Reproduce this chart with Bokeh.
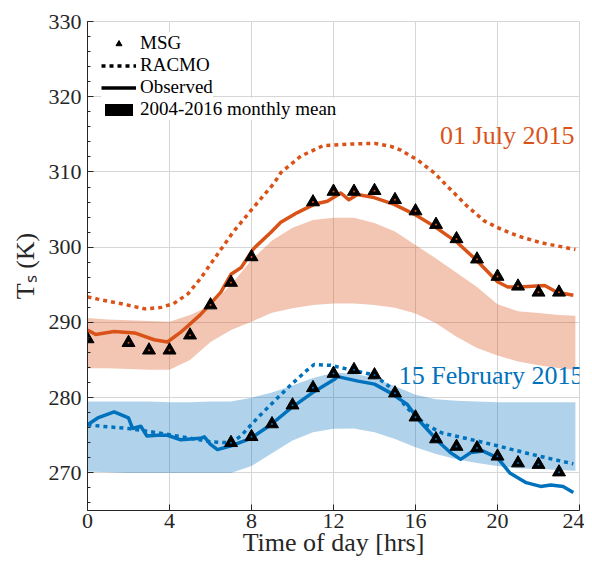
from bokeh.plotting import figure
from bokeh.models import Range1d, FixedTicker, Legend, LegendItem, Label
from bokeh.embed import file_html
from bokeh.resources import INLINE

# ---------------- data ----------------
band_hr = [0, 1, 2, 3, 4, 5, 6, 7, 8, 9, 10, 11, 12, 13, 14, 15, 16, 17, 18, 19, 20, 21, 22, 23, 23.8]
july_band_hi = [290.6, 290.4, 290.3, 290.2, 290.1, 291.0, 292.2, 295.0, 298.3, 300.9, 302.6, 303.6, 303.9,
                303.9, 303.2, 302.1, 300.3, 298.5, 296.6, 294.7, 292.4, 291.5, 291.25, 291.0, 290.9]
july_band_lo = [283.9, 283.9, 283.8, 283.7, 283.7, 285.0, 287.4, 289.0, 290.1, 291.3, 291.9, 292.3, 292.5,
                292.5, 292.3, 291.95, 291.2, 289.9, 288.1, 286.6, 285.6, 284.8, 284.3, 283.9, 283.7]
feb_band_hi = [279.5, 279.5, 279.5, 279.5, 279.4, 279.4, 279.5, 279.5, 280.0, 280.7, 281.6, 282.6, 283.3,
               283.2, 282.6, 281.5, 280.4, 279.8, 279.6, 279.5, 279.4, 279.4, 279.4, 279.4, 279.4]
feb_band_lo = [270.2, 270.1, 270.0, 270.0, 270.0, 270.0, 270.0, 270.0, 270.9, 272.6, 274.3, 275.4, 275.85,
               275.9, 275.4, 274.5, 273.4, 272.5, 271.8, 271.3, 270.9, 270.6, 270.5, 270.4, 270.3]

july_obs_hr = [0, 0.4, 1.3, 2.3, 3.25, 3.9, 4.55, 5.5, 6.5, 7.0, 7.5, 8.1, 8.95, 9.43, 10.24, 11.05, 11.7,
               12.36, 12.75, 13.17, 13.98, 14.96, 15.93, 16.9, 18.05, 19.0, 20.0, 20.5, 21.1, 22.3, 22.9, 23.7]
july_obs = [289.0, 288.4, 288.8, 288.6, 287.7, 287.4, 288.7, 291.0, 294.0, 296.4, 297.3, 299.8, 302.0, 303.3,
            304.6, 305.7, 306.1, 307.2, 306.3, 307.0, 306.6, 305.7, 304.4, 302.8, 300.6, 298.2, 295.4, 294.7,
            294.7, 294.9, 294.0, 293.6]

july_racmo_hr = [0, 0.5, 1.8, 2.8, 3.6, 4.2, 4.9, 5.5, 6.3, 7.1, 8.1, 9.1, 9.43, 10.4, 11.5, 12.7, 14.0, 14.8,
                 15.28, 16.1, 16.9, 17.7, 18.5, 19.35, 20.16, 20.98, 22.1, 23.8]
july_racmo = [293.4, 293.1, 292.4, 291.8, 292.0, 292.5, 293.8, 295.8, 298.9, 302.0, 305.3, 308.5, 309.9,
              312.1, 313.5, 313.7, 313.8, 313.4, 312.9, 311.6, 309.9, 307.7, 305.5, 303.5, 302.4, 301.5,
              300.6, 299.7]

july_msg_hr = [0, 2, 3, 4, 5, 6, 7, 8, 11, 12, 13, 14, 15, 16, 17, 18, 19, 20, 21, 22, 23]
july_msg = [287.8, 287.3, 286.3, 286.3, 288.3, 292.3, 295.3, 298.7, 306.0, 307.4, 307.4, 307.5, 306.3,
            304.8, 303.0, 301.1, 298.4, 296.1, 294.8, 294.0, 294.0]

feb_obs_hr = [0, 0.5, 1.3, 2.0, 2.2, 2.6, 2.9, 3.4, 3.9, 4.55, 5.5, 5.7, 6.0, 6.34, 7.0, 7.97, 8.94, 9.92,
              11.05, 12.03, 12.2, 13.2, 14.0, 14.8, 15.6, 16.2, 17.1, 17.7, 18.2, 18.7, 19.3, 20.0, 20.6,
              21.4, 22.1, 22.6, 23.2, 23.7]
feb_obs = [276.4, 277.3, 278.1, 277.3, 275.9, 276.2, 274.9, 275.0, 275.0, 274.4, 274.6, 274.8, 273.8, 273.1,
           273.6, 274.6, 276.4, 278.6, 280.8, 282.4, 282.8, 282.2, 281.8, 280.6, 279.1, 276.9, 274.2, 272.7,
           271.8, 272.7, 272.9, 272.0, 270.0, 268.7, 268.2, 268.4, 268.2, 267.4]

feb_racmo_hr = [0, 0.65, 2.0, 3.5, 4.8, 6.1, 7.0, 7.48, 8.29, 9.1, 9.92, 10.73, 11.05, 11.87, 13.0, 14.0,
                14.8, 15.6, 16.5, 17.3, 18.6, 20.0, 21.6, 23.7]
feb_racmo = [276.4, 276.2, 275.9, 275.3, 274.7, 274.1, 274.0, 274.9, 277.3, 279.5, 281.7, 283.7, 284.4,
             284.3, 283.6, 283.0, 281.3, 278.6, 276.4, 275.3, 274.5, 273.6, 272.5, 271.2]

feb_msg_hr = [7, 8, 9, 10, 11, 12, 13, 14, 15, 16, 17, 18, 19, 20, 21, 22, 23]
feb_msg = [274.0, 274.8, 276.5, 279.0, 281.3, 283.2, 283.7, 283.0, 280.6, 277.4, 274.5, 273.5, 273.3,
           272.2, 271.3, 271.1, 270.1]

legend_labels = ["MSG", "RACMO", "Observed", "2004-2016 monthly mean"]

x_ticks = [0, 4, 8, 12, 16, 20, 24]
y_ticks = [270, 280, 290, 300, 310, 320, 330]
y_minor = list(range(266, 331, 2))

# ---------------- style ----------------
ORANGE = "#D95319"
BLUE = "#0072BD"
FONT = "Liberation Serif"
DARK = "#262626"
NAN = float("nan")
FRAME_H = 489

p = figure(frame_width=492, frame_height=FRAME_H, x_range=Range1d(0, 24), y_range=Range1d(265, 330),
           output_backend="svg", toolbar_location=None,
           min_border_left=87, min_border_top=21, min_border_right=5, min_border_bottom=10)
p.background_fill_color = "white"
p.border_fill_color = "white"
p.outline_line_color = "#d6d6d6"
p.outline_line_width = 1

p.xaxis.ticker = FixedTicker(ticks=x_ticks)
p.yaxis.ticker = FixedTicker(ticks=y_ticks, minor_ticks=y_minor)
p.xgrid.ticker = FixedTicker(ticks=x_ticks)
p.ygrid.ticker = FixedTicker(ticks=y_ticks)
for g in (p.xgrid, p.ygrid):
    g.grid_line_color = "#d6d6d6"
    g.grid_line_width = 1

for ax in (p.xaxis, p.yaxis):
    ax.axis_line_color = DARK
    ax.axis_line_width = 1
    ax.major_tick_line_color = DARK
    ax.minor_tick_line_color = DARK
    ax.major_tick_in = 6
    ax.major_tick_out = 0
    ax.minor_tick_in = 3
    ax.minor_tick_out = 0
    ax.major_label_text_font = FONT
    ax.major_label_text_font_size = "22px"
    ax.major_label_text_color = DARK
    ax.axis_label_text_font = FONT
    ax.axis_label_text_font_size = "26px"
    ax.axis_label_text_font_style = "normal"
    ax.axis_label_text_color = DARK
p.xaxis.minor_tick_line_color = None
p.xaxis.major_label_standoff = 3
p.xaxis.axis_label_standoff = -3
p.yaxis.major_label_standoff = 6
p.yaxis.axis_label_standoff = 6
p.xaxis.axis_label = "Time of day [hrs]"
p.yaxis.axis_label = "T\u209b (K)"

# bands
p.varea(x=band_hr, y1=july_band_lo, y2=july_band_hi, fill_color=ORANGE, fill_alpha=0.33)
p.varea(x=band_hr, y1=feb_band_lo, y2=feb_band_hi, fill_color=BLUE, fill_alpha=0.31)

# RACMO dotted
p.line(july_racmo_hr, july_racmo, line_color=ORANGE, line_width=3.5, line_dash="4 4")
p.line(feb_racmo_hr, feb_racmo, line_color=BLUE, line_width=3.5, line_dash="4 4")

# Observed
p.line(july_obs_hr, july_obs, line_color=ORANGE, line_width=3.5, line_join="round")
p.line(feb_obs_hr, feb_obs, line_color=BLUE, line_width=3.5, line_join="round")

# MSG triangles
p.scatter(july_msg_hr, july_msg, marker="triangle", size=13, fill_color="black", line_color="black")
p.scatter(feb_msg_hr, feb_msg, marker="triangle", size=13, fill_color="black", line_color="black")
p.scatter(july_msg_hr, july_msg, marker="circle", size=2, fill_color=ORANGE, line_color=None)
p.scatter(feb_msg_hr, feb_msg, marker="circle", size=2, fill_color=BLUE, line_color=None)

# legend proxies (black, no visible data)
r_msg = p.scatter([NAN], [NAN], marker="triangle", size=12, fill_color="black", line_color="black")
r_racmo = p.line([NAN], [NAN], line_color="black", line_width=3.5, line_dash="4 4")
r_obs = p.line([NAN], [NAN], line_color="black", line_width=3.5)
r_band = p.varea(x=[NAN], y1=[NAN], y2=[NAN], fill_color="black")

# one single-entry legend per row
ROW_H = 22.6
ROW_STEP = 22.0
for i, (lab, r) in enumerate(zip(legend_labels, [r_msg, r_racmo, r_obs, r_band])):
    top = 22.0 + i * ROW_STEP - ROW_H / 2
    lg = Legend(items=[LegendItem(label=lab, renderers=[r])],
                location=(14, FRAME_H - top - ROW_H))
    lg.margin = 0
    lg.padding = 0
    lg.spacing = 0
    lg.glyph_width = 35
    lg.glyph_height = 15
    lg.label_height = 18
    lg.label_standoff = 4
    lg.label_text_font = FONT
    lg.label_text_font_size = "19px"
    lg.label_text_color = "black"
    lg.border_line_color = None
    lg.background_fill_color = "white"
    lg.background_fill_alpha = 1.0
    p.add_layout(lg)

# annotations
p.add_layout(Label(x=23.75, y=314.9, text="01 July 2015", text_align="right", text_baseline="middle",
                   text_font=FONT, text_font_size="26px", text_color=ORANGE))
p.add_layout(Label(x=24.2, y=282.9, text="15 February 2015", text_align="right", text_baseline="middle",
                   text_font=FONT, text_font_size="26px", text_color=BLUE))

open("out.html", "w").write(file_html(p, INLINE))
